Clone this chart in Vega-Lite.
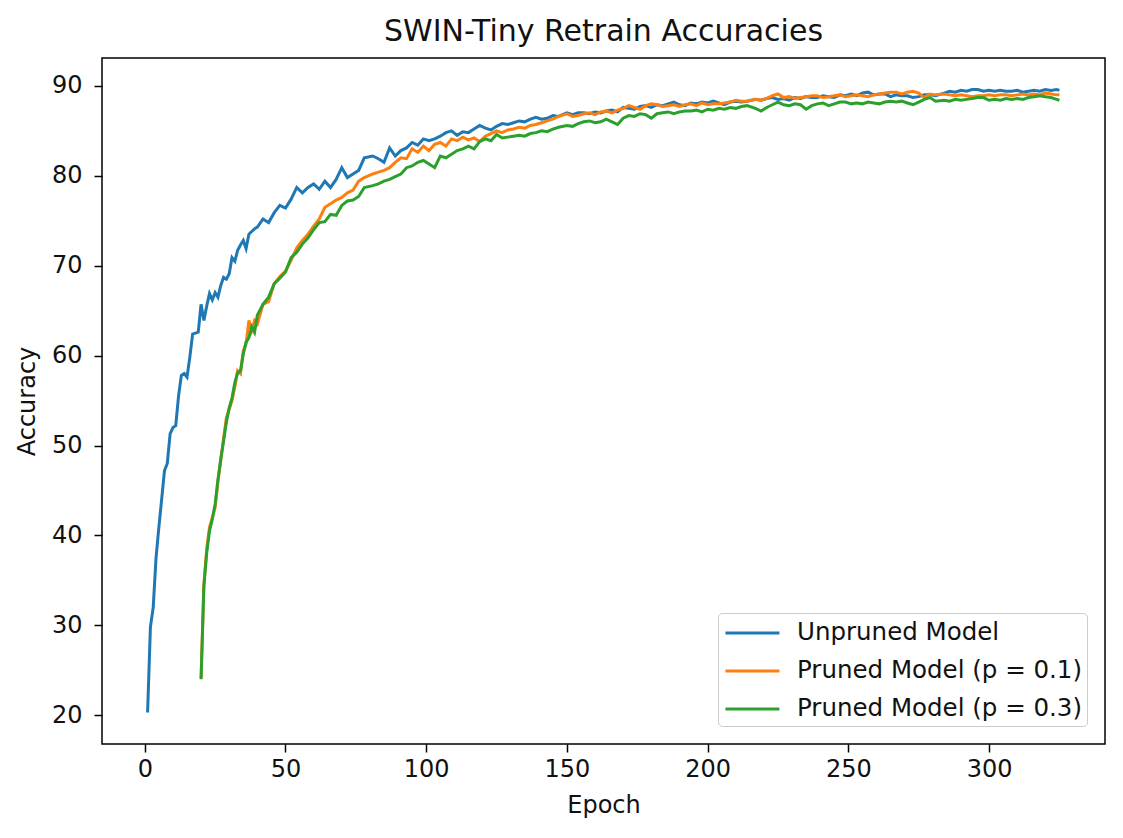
{
  "$schema": "https://vega.github.io/schema/vega-lite/v6.json",
  "width": 1003,
  "height": 686,
  "autosize": "none",
  "padding": {"left": 102, "top": 58, "right": 18, "bottom": 94},
  "background": "white",
  "title": {"text": "SWIN-Tiny Retrain Accuracies", "fontSize": 30, "font": "DejaVu Sans", "fontWeight": "normal", "color": "#111", "offset": 11, "anchor": "middle"},
  "data": {"values": [
    {"e":1,"u":20.3},{"e":2,"u":29.8},{"e":3,"u":32.0},{"e":4,"u":37.5},{"e":5,"u":40.9},{"e":6,"u":44.0},{"e":7,"u":47.2},{"e":8,"u":48.0},{"e":9,"u":51.3},{"e":10,"u":52.0},
    {"e":11,"u":52.2},{"e":12,"u":55.5},{"e":13,"u":57.8},{"e":14,"u":58.0},{"e":15,"u":57.6},{"e":16,"u":59.8},{"e":17,"u":62.4},{"e":18,"u":62.5},{"e":19,"u":62.6},
    {"e":20,"u":65.7,"p1":24.1,"p3":24.0},{"e":21,"u":63.9,"p1":34.6,"p3":34.3},{"e":22,"u":65.5,"p1":38.5,"p3":38.0},{"e":23,"u":66.9,"p1":40.9,"p3":40.5},
    {"e":24,"u":66.2,"p1":42.0,"p3":41.8},{"e":25,"u":67.0,"p1":43.1,"p3":43.5},{"e":26,"u":66.5,"p1":46.0,"p3":46.2},{"e":27,"u":67.8,"p1":48.3,"p3":48.5},
    {"e":28,"u":68.7,"p1":50.8,"p3":50.5},{"e":29,"u":68.5,"p1":53.1,"p3":52.6},{"e":30,"u":69.1,"p1":54.0,"p3":54.2},{"e":31,"u":70.9,"p1":55.0,"p3":55.3},
    {"e":32,"u":70.5,"p1":56.5,"p3":57.0},{"e":33,"u":71.7,"p1":58.3,"p3":58.1},{"e":34,"u":72.3,"p1":58.0,"p3":58.3},{"e":35,"u":72.8,"p1":60.5,"p3":60.2},
    {"e":36,"u":71.9,"p1":61.3,"p3":61.5},{"e":37,"u":73.5,"p1":63.9,"p3":62.0},{"e":38,"u":73.8,"p1":62.8,"p3":63.2},{"e":39,"u":74.1,"p1":63.9,"p3":62.6},
    {"e":40,"u":74.3,"p1":63.5,"p3":64.5},{"e":42,"u":75.2,"p1":65.7,"p3":65.7},{"e":44,"u":74.8,"p1":66.0,"p3":66.5},{"e":46,"u":75.9,"p1":68.0,"p3":68.0},
    {"e":48,"u":76.7,"p1":68.8,"p3":68.6},{"e":50,"u":76.4,"p1":69.4,"p3":69.3},{"e":52,"u":77.4,"p1":70.6,"p3":70.9},{"e":54,"u":78.7,"p1":72.0,"p3":71.5},
    {"e":56,"u":78.1,"p1":72.8,"p3":72.4},{"e":58,"u":78.7,"p1":73.5,"p3":73.1},{"e":60,"u":79.1,"p1":74.4,"p3":74.0},{"e":62,"u":78.5,"p1":75.2,"p3":74.8},
    {"e":64,"u":79.4,"p1":76.5,"p3":74.9},{"e":66,"u":78.7,"p1":76.9,"p3":75.7},{"e":68,"u":79.6,"p1":77.3,"p3":75.6},{"e":70,"u":80.9,"p1":77.6,"p3":76.7},
    {"e":72,"u":79.8,"p1":78.1,"p3":77.2},{"e":74,"u":80.2,"p1":78.4,"p3":77.3},{"e":76,"u":80.6,"p1":79.4,"p3":77.7},{"e":78,"u":82.0,"p1":79.8,"p3":78.7},
    {"e":81,"u":82.2,"p1":80.2,"p3":78.9},{"e":83,"u":81.9,"p1":80.4,"p3":79.1},{"e":85,"u":81.5,"p1":80.6,"p3":79.4},{"e":87,"u":83.1,"p1":80.9,"p3":79.6},
    {"e":89,"u":82.2,"p1":81.5,"p3":79.9},{"e":91,"u":82.8,"p1":82.0,"p3":80.2},{"e":93,"u":83.1,"p1":81.9,"p3":80.9},{"e":95,"u":83.7,"p1":83.0,"p3":81.1},
    {"e":97,"u":83.4,"p1":82.6,"p3":81.5},{"e":99,"u":84.1,"p1":83.3,"p3":81.7},{"e":101,"u":83.9,"p1":82.8,"p3":81.3},{"e":103,"u":84.1,"p1":83.5,"p3":80.9},
    {"e":105,"u":84.4,"p1":83.7,"p3":82.2},{"e":107,"u":84.8,"p1":83.3,"p3":82.0},{"e":109,"u":85.0,"p1":84.1,"p3":82.4},{"e":111,"u":84.5,"p1":83.9,"p3":82.8},
    {"e":113,"u":84.9,"p1":84.3,"p3":83.0},{"e":115,"u":84.8,"p1":84.0,"p3":83.3},{"e":117,"u":85.2,"p1":84.2,"p3":83.0},{"e":119,"u":85.6,"p1":83.8,"p3":83.8},
    {"e":121,"u":85.3,"p1":84.4,"p3":84.1},{"e":123,"u":85.1,"p1":84.7,"p3":83.9},{"e":125,"u":85.5,"p1":85.0,"p3":84.6},{"e":127,"u":85.8,"p1":84.8,"p3":84.2},
    {"e":129,"u":85.7,"p1":85.1,"p3":84.3},{"e":131,"u":85.9,"p1":85.2,"p3":84.4},{"e":133,"u":86.1,"p1":85.4,"p3":84.5},{"e":135,"u":86.0,"p1":85.3,"p3":84.4},
    {"e":137,"u":86.3,"p1":85.6,"p3":84.7},{"e":139,"u":86.5,"p1":85.7,"p3":84.8},{"e":141,"u":86.3,"p1":85.9,"p3":85.0},{"e":143,"u":86.4,"p1":86.1,"p3":84.9},
    {"e":145,"u":86.7,"p1":86.3,"p3":85.2},{"e":147,"u":86.6,"p1":86.6,"p3":85.4},{"e":150,"u":87.0,"p1":86.9,"p3":85.6},{"e":152,"u":86.8,"p1":86.6,"p3":85.5},
    {"e":154,"u":87.0,"p1":86.7,"p3":85.8},{"e":156,"u":87.0,"p1":86.9,"p3":86.0},{"e":158,"u":86.9,"p1":87.0,"p3":86.1},{"e":160,"u":87.1,"p1":86.8,"p3":85.9},
    {"e":162,"u":87.0,"p1":87.1,"p3":86.0},{"e":164,"u":87.2,"p1":87.2,"p3":86.3},{"e":166,"u":87.3,"p1":87.0,"p3":86.0},{"e":168,"u":87.1,"p1":87.3,"p3":85.7},
    {"e":170,"u":87.6,"p1":87.5,"p3":86.4},{"e":172,"u":87.5,"p1":87.8,"p3":86.7},{"e":174,"u":87.4,"p1":87.6,"p3":86.6},{"e":176,"u":87.7,"p1":87.4,"p3":86.9},
    {"e":178,"u":87.8,"p1":87.8,"p3":86.8},{"e":180,"u":87.6,"p1":88.0,"p3":86.4},{"e":182,"u":87.9,"p1":87.9,"p3":86.9},{"e":184,"u":87.8,"p1":87.7,"p3":87.0},
    {"e":186,"u":88.0,"p1":87.8,"p3":87.1},{"e":188,"u":88.2,"p1":87.9,"p3":86.9},{"e":190,"u":87.9,"p1":87.7,"p3":87.1},{"e":192,"u":87.8,"p1":87.9,"p3":87.2},
    {"e":194,"u":88.1,"p1":88.0,"p3":87.2},{"e":196,"u":88.0,"p1":87.8,"p3":87.3},{"e":198,"u":88.2,"p1":88.1,"p3":87.1},{"e":200,"u":88.1,"p1":87.9,"p3":87.4},
    {"e":202,"u":88.3,"p1":88.0,"p3":87.3},{"e":204,"u":88.1,"p1":88.0,"p3":87.5},{"e":206,"u":87.9,"p1":88.1,"p3":87.4},{"e":208,"u":88.2,"p1":88.2,"p3":87.6},
    {"e":210,"u":88.3,"p1":88.4,"p3":87.5},{"e":212,"u":88.2,"p1":88.3,"p3":87.7},{"e":214,"u":88.3,"p1":88.3,"p3":87.8},{"e":217,"u":88.5,"p1":88.5,"p3":87.5},
    {"e":219,"u":88.4,"p1":88.4,"p3":87.2},{"e":221,"u":88.6,"p1":88.6,"p3":87.6},{"e":223,"u":88.7,"p1":88.9,"p3":87.9},{"e":225,"u":88.5,"p1":89.1,"p3":88.2},
    {"e":227,"u":88.6,"p1":88.7,"p3":87.9},{"e":229,"u":88.4,"p1":88.8,"p3":87.8},{"e":231,"u":88.7,"p1":88.6,"p3":88.0},{"e":233,"u":88.6,"p1":88.7,"p3":87.9},
    {"e":235,"u":88.8,"p1":88.8,"p3":87.4},{"e":237,"u":88.7,"p1":88.9,"p3":87.8},{"e":239,"u":88.7,"p1":88.9,"p3":88.0},{"e":241,"u":88.9,"p1":88.7,"p3":88.1},
    {"e":243,"u":88.8,"p1":88.8,"p3":87.8},{"e":245,"u":88.7,"p1":88.9,"p3":88.0},{"e":247,"u":89.0,"p1":89.0,"p3":88.2},{"e":249,"u":88.9,"p1":88.8,"p3":88.2},
    {"e":251,"u":89.1,"p1":88.9,"p3":88.0},{"e":253,"u":88.9,"p1":89.0,"p3":88.1},{"e":255,"u":89.2,"p1":88.9,"p3":88.0},{"e":257,"u":89.3,"p1":88.8,"p3":88.2},
    {"e":259,"u":89.0,"p1":89.0,"p3":88.1},{"e":261,"u":89.1,"p1":89.1,"p3":88.0},{"e":263,"u":89.1,"p1":89.2,"p3":88.2},{"e":265,"u":88.8,"p1":89.3,"p3":88.3},
    {"e":267,"u":89.0,"p1":89.3,"p3":88.2},{"e":269,"u":88.9,"p1":89.1,"p3":88.3},{"e":271,"u":88.9,"p1":89.3,"p3":88.1},{"e":273,"u":88.7,"p1":89.4,"p3":87.9},
    {"e":275,"u":88.8,"p1":89.2,"p3":88.2},{"e":277,"u":89.0,"p1":88.7,"p3":88.5},{"e":279,"u":89.0,"p1":89.1,"p3":88.7},{"e":281,"u":88.9,"p1":89.0,"p3":88.3},
    {"e":284,"u":89.2,"p1":89.1,"p3":88.4},{"e":286,"u":89.4,"p1":89.0,"p3":88.3},{"e":288,"u":89.3,"p1":88.9,"p3":88.5},{"e":290,"u":89.5,"p1":89.0,"p3":88.4},
    {"e":292,"u":89.4,"p1":88.9,"p3":88.5},{"e":294,"u":89.6,"p1":88.8,"p3":88.6},{"e":296,"u":89.6,"p1":88.9,"p3":88.7},{"e":298,"u":89.4,"p1":88.9,"p3":88.7},
    {"e":300,"u":89.5,"p1":89.0,"p3":88.4},{"e":302,"u":89.4,"p1":88.9,"p3":88.5},{"e":304,"u":89.5,"p1":89.0,"p3":88.4},{"e":306,"u":89.4,"p1":89.0,"p3":88.6},
    {"e":308,"u":89.4,"p1":88.9,"p3":88.5},{"e":310,"u":89.5,"p1":89.0,"p3":88.6},{"e":312,"u":89.3,"p1":89.1,"p3":88.5},{"e":314,"u":89.4,"p1":89.0,"p3":88.7},
    {"e":316,"u":89.5,"p1":89.1,"p3":88.8},{"e":318,"u":89.4,"p1":89.0,"p3":88.9},{"e":320,"u":89.6,"p1":89.2,"p3":88.8},{"e":322,"u":89.5,"p1":89.1,"p3":88.7},
    {"e":324,"u":89.6,"p1":89.0,"p3":88.5},{"e":325,"u":89.5,"p1":89.0,"p3":88.4}
  ]},
  "transform": [
    {"fold": ["u", "p1", "p3"], "as": ["series", "acc"]},
    {"filter": "isValid(datum.acc)"}
  ],
  "mark": {"type": "line", "strokeWidth": 3, "clip": true},
  "encoding": {
    "x": {"field": "e", "type": "quantitative", "scale": {"domain": [-15.2, 341.2], "nice": false, "zero": false}, "axis": {"values": [0, 50, 100, 150, 200, 250, 300], "title": "Epoch"}},
    "y": {"field": "acc", "type": "quantitative", "scale": {"domain": [16.8, 93.1], "nice": false, "zero": false}, "axis": {"values": [20, 30, 40, 50, 60, 70, 80, 90], "title": "Accuracy"}},
    "color": {"field": "series", "type": "nominal", "scale": {"domain": ["u", "p1", "p3"], "range": ["#1f77b4", "#ff7f0e", "#2ca02c"]},
      "legend": {"title": null, "orient": "none", "legendX": 616, "legendY": 555, "symbolType": "M-0.93,0H3.07", "symbolSize": 729, "symbolStrokeWidth": 3,
        "labelFontSize": 24.5, "labelFont": "DejaVu Sans", "labelColor": "#111", "labelOffset": 44, "labelLimit": 500,
        "labelExpr": "datum.value == 'u' ? 'Unpruned Model' : datum.value == 'p1' ? 'Pruned Model (p = 0.1)' : 'Pruned Model (p = 0.3)'",
        "fillColor": "rgba(255,255,255,0.8)", "strokeColor": "#cccccc", "cornerRadius": 4, "padding": 5, "rowPadding": 11}}
  },
  "config": {
    "view": {"stroke": "#000", "strokeWidth": 1.5},
    "axis": {"domain": false, "grid": false, "tickColor": "#000", "tickSize": 8, "tickWidth": 1.5, "labelFontSize": 24, "titleFontSize": 24, "labelFont": "DejaVu Sans", "titleFont": "DejaVu Sans", "titleFontWeight": "normal", "labelColor": "#111", "titleColor": "#111"},
    "axisX": {"labelPadding": 5, "titlePadding": 12},
    "axisY": {"labelPadding": 12, "titlePadding": 12}
  }
}
